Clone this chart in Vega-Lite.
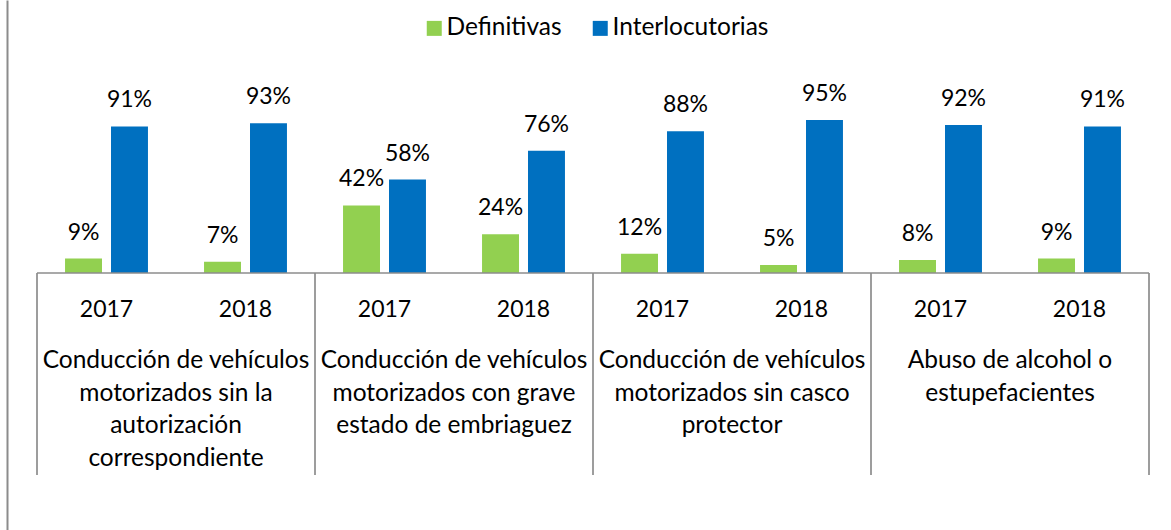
{
  "$schema": "https://vega.github.io/schema/vega-lite/v6.json",
  "width": 1112,
  "height": 530,
  "autosize": {"type": "none"},
  "padding": {"left": 37, "top": 0, "right": 22, "bottom": 0},
  "background": "white",
  "config": {
    "view": {"stroke": null},
    "font": "Lato",
    "text": {"font": "Lato", "fontSize": 23, "color": "#000000"}
  },
  "datasets": {
    "bars": [
      {"grp": "A2017", "serie": "Definitivas", "value": 0.09},
      {"grp": "A2017", "serie": "Interlocutorias", "value": 0.91},
      {"grp": "A2018", "serie": "Definitivas", "value": 0.07},
      {"grp": "A2018", "serie": "Interlocutorias", "value": 0.93},
      {"grp": "B2017", "serie": "Definitivas", "value": 0.42},
      {"grp": "B2017", "serie": "Interlocutorias", "value": 0.58},
      {"grp": "B2018", "serie": "Definitivas", "value": 0.24},
      {"grp": "B2018", "serie": "Interlocutorias", "value": 0.76},
      {"grp": "C2017", "serie": "Definitivas", "value": 0.12},
      {"grp": "C2017", "serie": "Interlocutorias", "value": 0.88},
      {"grp": "C2018", "serie": "Definitivas", "value": 0.05},
      {"grp": "C2018", "serie": "Interlocutorias", "value": 0.95},
      {"grp": "D2017", "serie": "Definitivas", "value": 0.08},
      {"grp": "D2017", "serie": "Interlocutorias", "value": 0.92},
      {"grp": "D2018", "serie": "Definitivas", "value": 0.09},
      {"grp": "D2018", "serie": "Interlocutorias", "value": 0.91}
    ],
    "years": [
      {"grp": "A2017", "year": "2017"},
      {"grp": "A2018", "year": "2018"},
      {"grp": "B2017", "year": "2017"},
      {"grp": "B2018", "year": "2018"},
      {"grp": "C2017", "year": "2017"},
      {"grp": "C2018", "year": "2018"},
      {"grp": "D2017", "year": "2017"},
      {"grp": "D2018", "year": "2018"}
    ],
    "cats": [
      {"grp": "A2017", "label": "Conducción de vehículos|motorizados sin la|autorización|correspondiente"},
      {"grp": "B2017", "label": "Conducción de vehículos|motorizados con grave|estado de embriaguez"},
      {"grp": "C2017", "label": "Conducción de vehículos|motorizados sin casco|protector"},
      {"grp": "D2017", "label": "Abuso de alcohol o|estupefacientes"}
    ],
    "ends": [
      {"grp": "D2018"}
    ]
  },
  "layer": [
    {
      "data": {"name": "bars"},
      "mark": {"type": "bar"},
      "encoding": {
        "x": {
          "field": "grp",
          "type": "ordinal",
          "sort": ["A2017", "A2018", "B2017", "B2018", "C2017", "C2018", "D2017", "D2018"],
          "scale": {"domain": ["A2017", "A2018", "B2017", "B2018", "C2017", "C2018", "D2017", "D2018"], "paddingInner": 0, "paddingOuter": 0, "align": 0.5},
          "axis": null
        },
        "xOffset": {
          "field": "serie",
          "type": "nominal",
          "scale": {"paddingInner": 0.196, "paddingOuter": 0.61}
        },
        "y": {
          "field": "value",
          "type": "quantitative",
          "scale": {"domain": [-1.5963, 1.6957], "nice": false, "zero": false},
          "axis": {
            "orient": "left",
            "offset": 30,
            "domain": true,
            "domainColor": "#8c8c8c",
            "domainWidth": 2,
            "labels": false,
            "ticks": false,
            "grid": false,
            "title": null
          }
        },
        "y2": {"datum": 0},
        "color": {
          "field": "serie",
          "type": "nominal",
          "scale": {"domain": ["Definitivas", "Interlocutorias"], "range": ["#92D050", "#0070C0"]},
          "legend": {
            "orient": "none",
            "legendX": 385,
            "legendY": 16,
            "direction": "horizontal",
            "title": null,
            "symbolType": "square",
            "symbolSize": 225,
            "symbolStrokeWidth": 0,
            "labelFont": "Lato",
            "labelFontSize": 24.5,
            "labelColor": "#000000",
            "labelOffset": 0,
            "columnPadding": 26
          }
        }
      }
    },
    {
      "data": {"name": "bars"},
      "mark": {"type": "text", "baseline": "alphabetic", "dy": -19, "fontSize": 23},
      "encoding": {
        "x": {"field": "grp", "type": "ordinal"},
        "xOffset": {"field": "serie", "type": "nominal"},
        "y": {"field": "value", "type": "quantitative"},
        "text": {"field": "value", "type": "quantitative", "format": ".0%"}
      }
    },
    {
      "data": {"name": "years"},
      "mark": {"type": "text", "baseline": "alphabetic", "dy": 44, "fontSize": 23},
      "encoding": {
        "x": {"field": "grp", "type": "ordinal"},
        "y": {"datum": 0},
        "text": {"field": "year", "type": "nominal"}
      }
    },
    {
      "data": {"name": "cats"},
      "mark": {"type": "text", "baseline": "alphabetic", "dy": 95, "fontSize": 24.5, "lineBreak": "|", "lineHeight": 32.7, "align": "center"},
      "encoding": {
        "x": {"field": "grp", "type": "ordinal", "bandPosition": 1},
        "y": {"datum": 0},
        "text": {"field": "label", "type": "nominal"}
      }
    },
    {
      "data": {"name": "cats"},
      "mark": {"type": "rule", "color": "#8c8c8c", "strokeWidth": 1.7},
      "encoding": {
        "x": {"field": "grp", "type": "ordinal", "bandPosition": 0},
        "y": {"datum": 0},
        "y2": {"datum": -1.2547}
      }
    },
    {
      "data": {"name": "ends"},
      "mark": {"type": "rule", "color": "#8c8c8c", "strokeWidth": 1.7},
      "encoding": {
        "x": {"field": "grp", "type": "ordinal", "bandPosition": 1},
        "y": {"datum": 0},
        "y2": {"datum": -1.2547}
      }
    },
    {
      "data": {"values": [{}]},
      "mark": {"type": "rule", "color": "#8c8c8c", "strokeWidth": 1.7},
      "encoding": {
        "y": {"datum": 0}
      }
    }
  ]
}
